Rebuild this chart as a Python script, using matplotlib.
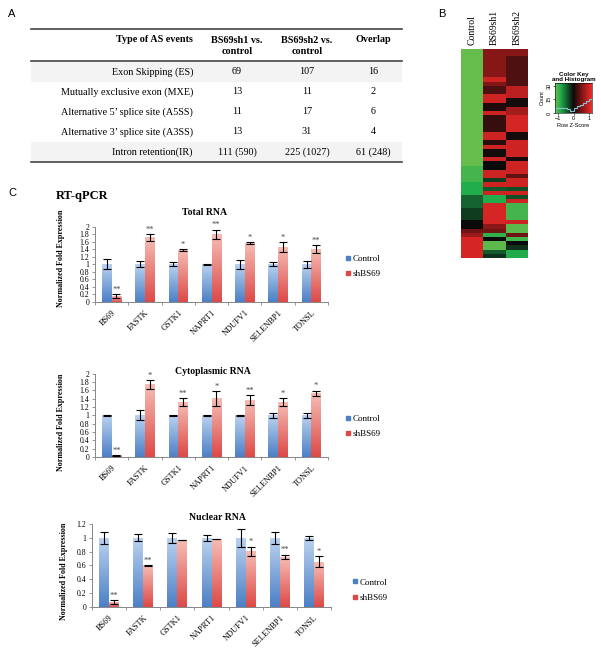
import numpy as np
import matplotlib.pyplot as plt
from matplotlib.colors import LinearSegmentedColormap
from matplotlib.lines import Line2D

# ---- panel A: AS events table ----
as_types = ["Exon Skipping (ES)", "Mutually exclusive exon (MXE)",
            "Alternative 5\u2019 splice site (A5SS)", "Alternative 3\u2019 splice site (A3SS)",
            "Intron retention(IR)"]
sh1_counts = ["69", "13", "11", "13", "111 (590)"]
sh2_counts = ["107", "11", "17", "31", "225 (1027)"]
overlap_counts = ["16", "2", "6", "4", "61 (248)"]
headers = ["Type of AS events", "BS69sh1 vs.\ncontrol", "BS69sh2 vs.\ncontrol", "Overlap"]

# ---- panel B: heatmap row z-scores (top to bottom) ----
hm_samples = ["Control", "BS69sh1", "BS69sh2"]
ctrl_z = [-1.15, -1.15, -1.15, -1.15, -1.15, -1.15, -1.15, -1.15, -1.15, -1.15,
          -1.15, -1.15, -1.15, -1.15, -1.15, -1.15, -1.15, -1.15, -1.15, -1.15,
          -1.15, -1.15, -1.15, -1.15, -1.15, -1.15, -1.15, -1.15, -1.0, -1.0,
          -1.0, -1.0, -0.85, -0.85, -0.85, -0.45, -0.45, -0.45, -0.25, -0.25,
          -0.25, 0.0, 0.0, 0.45, 0.7, 1.05, 1.05, 1.05, 1.05, 1.05]
sh1_z = [0.58, 0.58, 0.58, 0.58, 0.58, 0.58, 0.58, 1.0, 0.55, 0.3,
         0.3, 1.0, 1.0, 0.1, 0.1, 1.0, 0.2, 0.2, 0.2, 0.2,
         1.0, 1.0, 0.15, 1.0, 0.05, 0.05, 1.0, 0.0, 0.0, 1.0,
         1.0, -0.25, 1.0, -0.4, 1.0, -0.85, -0.85, 1.05, 1.05, 1.05,
         1.05, 1.05, 0.6, 0.45, -0.9, 0.0, -1.1, -1.1, -0.4, -0.2]
sh2_z = [0.58, 0.58, 0.3, 0.3, 0.3, 0.3, 0.3, 0.3, 0.3, 0.9,
         0.9, 0.9, 0.05, 0.05, 0.75, 0.75, 1.05, 1.05, 1.05, 1.05,
         0.05, 0.05, 1.0, 1.0, 1.0, 1.0, 0.05, 1.0, 1.0, 1.0,
         0.4, 1.0, 1.0, -0.35, 1.0, -0.35, 1.0, -1.0, -1.0, -1.0,
         -1.0, 1.0, -1.1, -1.1, 0.45, -1.0, 0.0, -0.2, -0.85, -0.85]
hist_edges = [-1.2, -1.0, -0.8, -0.6, -0.4, -0.2, 0.0, 0.2, 0.4, 0.6, 0.8, 1.0, 1.2]
hist_counts = [5, 5, 5, 5, 4, 2, 6, 8, 9, 11, 13, 15]

# ---- panel C: RT-qPCR ----
genes = ["BS69", "FASTK", "GSTK1", "NAPRT1", "NDUFV1", "SELENBP1", "TONSL"]

total_ctrl = [1.0, 1.0, 1.0, 1.0, 1.0, 1.0, 1.0]
total_ctrl_err = [0.13, 0.08, 0.06, 0.01, 0.12, 0.06, 0.09]
total_sh = [0.15, 1.72, 1.38, 1.80, 1.56, 1.45, 1.41]
total_sh_err = [0.05, 0.09, 0.03, 0.12, 0.03, 0.13, 0.10]
total_stars = ["**", "**", "*", "**", "*", "*", "**"]

cyto_ctrl = [1.0, 1.0, 1.0, 1.0, 1.0, 1.0, 1.0]
cyto_ctrl_err = [0.01, 0.12, 0.01, 0.02, 0.01, 0.06, 0.06]
cyto_sh = [0.04, 1.74, 1.32, 1.40, 1.36, 1.32, 1.53]
cyto_sh_err = [0.01, 0.10, 0.09, 0.18, 0.12, 0.09, 0.06]
cyto_stars = ["**", "*", "**", "*", "**", "*", "*"]

nuc_ctrl = [1.0, 1.0, 1.0, 1.0, 1.0, 1.0, 1.0]
nuc_ctrl_err = [0.09, 0.05, 0.075, 0.04, 0.13, 0.09, 0.03]
nuc_sh = [0.07, 0.60, 0.97, 0.98, 0.80, 0.72, 0.65]
nuc_sh_err = [0.025, 0.005, 0.003, 0.003, 0.07, 0.035, 0.08]
nuc_stars = ["**", "**", "", "", "*", "**", "*"]

W, H = 601, 654
SERIF = "Liberation Serif"
SANS = "Liberation Sans"

fig = plt.figure(figsize=(W / 100, H / 100), dpi=100)


def box(x0, y0, x1, y1):
    return fig.add_axes([x0 / W, 1 - y1 / H, (x1 - x0) / W, (y1 - y0) / H])


def ftext(x, y, s, **kw):
    fig.text(x / W, 1 - y / H, s, **kw)


# overlay in pixel units for the table
ov = fig.add_axes([0, 0, 1, 1])
ov.set_xlim(0, W)
ov.set_ylim(H, 0)
ov.axis("off")

ftext(12, 14, "A", family=SANS, fontsize=8, ha="center", va="center")
ftext(442, 14, "B", family=SANS, fontsize=8, ha="center", va="center")
ftext(12, 193, "C", family=SANS, fontsize=8, ha="center", va="center")

tx0, tx1 = 31, 402
row_y = [72, 92, 112, 132, 152]
col_x = [237, 307, 373]
for yc in (row_y[0], row_y[-1]):
    ov.fill_between([tx0, tx1], yc - 10, yc + 9.5, color="#f3f3f3", lw=0)
for yl in (29, 61, 162):
    ov.plot([tx0, tx1], [yl, yl], color="#444444", lw=1.2)
tkw = dict(family=SERIF, fontsize=7.3, va="center")
ov.text(193, 40, headers[0], ha="right", fontweight="bold", **tkw)
for cx, hd in zip(col_x, headers[1:]):
    ov.text(cx, 40 if "\n" not in hd else 46, hd, ha="center", fontweight="bold",
            linespacing=1.25, **tkw)
for i, yc in enumerate(row_y):
    ov.text(193, yc, as_types[i], ha="right", **tkw)
    ov.text(col_x[0], yc, sh1_counts[i], ha="center", **tkw)
    ov.text(col_x[1], yc, sh2_counts[i], ha="center", **tkw)
    ov.text(col_x[2], yc, overlap_counts[i], ha="center", **tkw)

# ---- heatmap ----
cmap = LinearSegmentedColormap.from_list(
    "gr", [(0.0, "#72c04c"), (0.146, "#22ad4e"), (0.333, "#135a2c"),
           (0.5, "#0a0a0a"), (0.708, "#7a1414"), (1.0, "#ee2a2a")])
hm = np.column_stack([ctrl_z, sh1_z, sh2_z])
axh = box(461, 49, 528, 258)
axh.imshow(hm, cmap=cmap, vmin=-1.2, vmax=1.2, aspect="auto", interpolation="nearest")
axh.set_xticks(range(3))
axh.set_xticklabels(hm_samples, rotation=90, family=SERIF, fontsize=7)
axh.xaxis.tick_top()
axh.tick_params(length=0, pad=3, left=False, labelleft=False)
for s in axh.spines.values():
    s.set_visible(False)

# color key
axk = box(555, 83, 592, 113)
axk.imshow(np.linspace(-1.2, 1.2, 200).reshape(1, -1), cmap=cmap, vmin=-1.2, vmax=1.2,
           aspect="auto", extent=[-1.2, 1.2, 0, 33])
axk.stairs(hist_counts, hist_edges, color="#86c4cc", lw=0.8)
axk.set_xlim(-1.2, 1.2)
axk.set_ylim(0, 33)
axk.set_xticks([-1, 0, 1])
axk.set_yticks([0, 15, 30])
axk.tick_params(labelsize=4, length=1.5, width=0.4, pad=1)
for lab in axk.get_yticklabels():
    lab.set_rotation(90)
    lab.set_va("center")
for lab in axk.get_xticklabels() + axk.get_yticklabels():
    lab.set_family(SANS)
axk.set_xlabel("Row Z-Score", family=SANS, fontsize=4, labelpad=1)
axk.set_ylabel("Count", family=SANS, fontsize=4, labelpad=1)
axk.set_title("Color Key\nand Histogram", family=SANS, fontsize=4.5, fontweight="bold",
              pad=1.5, linespacing=1.0)
for s in axk.spines.values():
    s.set_linewidth(0.4)

# ---- RT-qPCR panels ----
ftext(82, 196, "RT-qPCR", family=SERIF, fontsize=9, fontweight="bold", ha="center", va="center")

BLUE = ("#bad2ef", "#4c80c6")
RED = ("#f6bcb4", "#dc4a48")


def grad_bars(ax, xs, heights, cols, bw):
    bars = ax.bar(xs, heights, width=bw, color="none", edgecolor="none")
    cm = LinearSegmentedColormap.from_list("g", [cols[1], cols[0]])
    grad = np.linspace(0, 1, 64).reshape(-1, 1)
    for b in bars:
        x0, y0, w, h = b.get_x(), b.get_y(), b.get_width(), b.get_height()
        ax.imshow(grad, cmap=cm, origin="lower", aspect="auto",
                  extent=[x0, x0 + w, y0, y0 + h], zorder=1)


def rna_panel(rect, title, title_xy, ylab_xy, ctrl, ctrl_err, sh, sh_err, stars,
              ymax, leg_xy):
    ax = box(*rect)
    x = np.arange(len(genes))
    bw = 0.29
    grad_bars(ax, x - bw / 2, ctrl, BLUE, bw)
    grad_bars(ax, x + bw / 2, sh, RED, bw)
    ax.errorbar(x - bw / 2, ctrl, yerr=ctrl_err, fmt="none", ecolor="black",
                elinewidth=0.8, capsize=2.6, capthick=0.8, zorder=3)
    ax.errorbar(x + bw / 2, sh, yerr=sh_err, fmt="none", ecolor="black",
                elinewidth=0.8, capsize=2.6, capthick=0.8, zorder=3)
    for xi, v, e, s in zip(x, sh, sh_err, stars):
        if s:
            ax.text(xi + bw / 2, v + e + ymax * 0.005, s, ha="center", va="bottom",
                    family=SERIF, fontsize=6, color="#444444")
    ax.set_xlim(-0.5, len(genes) - 0.5)
    ax.set_ylim(0, ymax)
    ticks = np.round(np.arange(0, ymax + 0.01, 0.2), 1)
    ax.set_yticks(ticks)
    ax.set_yticklabels([f"{t:g}" for t in ticks], family=SERIF, fontsize=5.6)
    ax.set_xticks(x)
    ax.set_xticklabels(genes, rotation=45, ha="right", rotation_mode="anchor",
                       family=SERIF, fontsize=6)
    ax.set_xticks(np.arange(-0.5, len(genes)), minor=True)
    ax.tick_params(axis="x", which="major", length=0, pad=5)
    ax.tick_params(axis="x", which="minor", length=2.5, width=0.6, color="#868686")
    ax.tick_params(axis="y", length=2.5, width=0.6, color="#868686", pad=1.5)
    for s in ("top", "right"):
        ax.spines[s].set_visible(False)
    for s in ("left", "bottom"):
        ax.spines[s].set_color("#868686")
        ax.spines[s].set_linewidth(0.7)
    ftext(*title_xy, title, family=SERIF, fontsize=7, fontweight="bold",
          ha="center", va="center")
    ftext(*ylab_xy, "Normalized Fold Expression", family=SERIF, fontsize=5.8,
          fontweight="bold", rotation=90, ha="center", va="center")
    handles = [Line2D([], [], marker="s", ls="", color=BLUE[1], markersize=3),
               Line2D([], [], marker="s", ls="", color=RED[1], markersize=3)]
    ax.legend(handles, ["Control", "shBS69"], loc="center left",
              bbox_to_anchor=(leg_xy[0] / W, 1 - leg_xy[1] / H),
              bbox_transform=fig.transFigure, frameon=False,
              prop={"family": SERIF, "size": 6.5}, handlelength=0.6,
              handletextpad=0.2, labelspacing=0.75, borderpad=0, borderaxespad=0)
    return ax


rna_panel((95, 226.7, 328, 301.7), "Total RNA", (205, 213), (61, 258),
          total_ctrl, total_ctrl_err, total_sh, total_sh_err, total_stars, 2.0, (345, 266.5))
rna_panel((95, 373.7, 328, 457), "Cytoplasmic RNA", (213, 372), (61, 422),
          cyto_ctrl, cyto_ctrl_err, cyto_sh, cyto_sh_err, cyto_stars, 2.0, (345, 426.5))
rna_panel((92, 524, 331, 606.7), "Nuclear RNA", (217, 518), (64, 571),
          nuc_ctrl, nuc_ctrl_err, nuc_sh, nuc_sh_err, nuc_stars, 1.2, (352, 590))

fig.savefig("out.png", dpi=100)
